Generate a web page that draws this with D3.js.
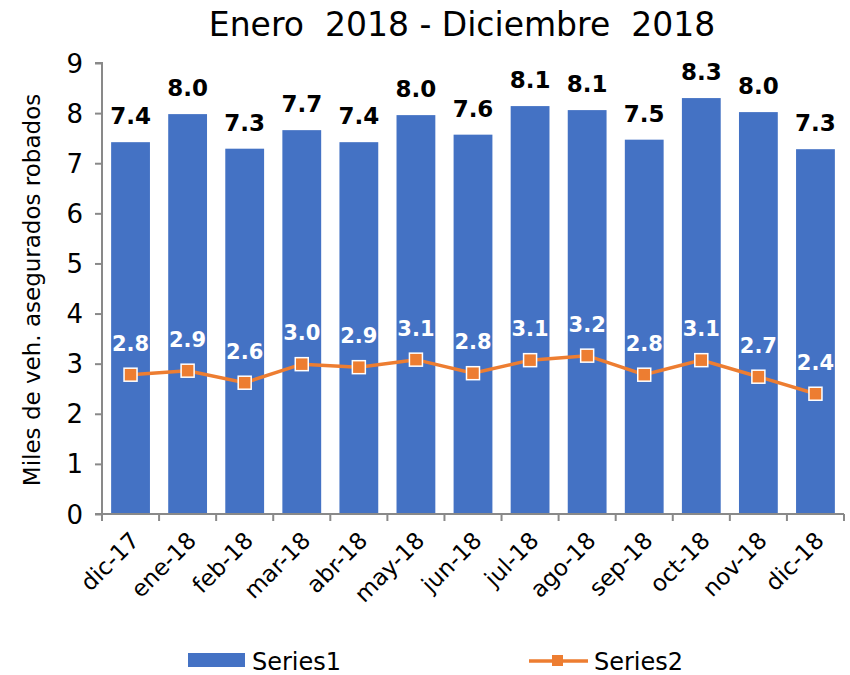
<html>
<head>
<script src="https://d3js.org/d3.v7.min.js"></script>
<style>
  body { margin: 0; background: #fff; }
  text { font-family: "DejaVu Sans", sans-serif; }
</style>
</head>
<body>
<script>
// data
var months = ["dic-17","ene-18","feb-18","mar-18","abr-18","may-18","jun-18",
              "jul-18","ago-18","sep-18","oct-18","nov-18","dic-18"];
var series1 = [7.42, 7.98, 7.29, 7.66, 7.42, 7.96, 7.57, 8.14, 8.06, 7.47, 8.30, 8.02, 7.28];
var series2 = [2.78, 2.86, 2.62, 2.99, 2.93, 3.08, 2.81, 3.07, 3.16, 2.78, 3.07, 2.74, 2.40];
var yTicks = [0,1,2,3,4,5,6,7,8,9];

var W = 850, H = 675;
var blue = "#4472C4", orange = "#ED7D31", axisCol = "#898989";

var svg = d3.select("body").append("svg").attr("width", W).attr("height", H);

var x = d3.scaleBand().domain(months).range([102, 844]).paddingInner(0.32).paddingOuter(0.16);
var y = d3.scaleLinear().domain([0, 9]).range([514, 63]);

// title
svg.append("text")
  .attr("x", 462).attr("y", 36)
  .attr("text-anchor", "middle")
  .attr("font-size", 33)
  .style("white-space", "pre")
  .text("Enero  2018 - Diciembre  2018");

// y axis title
svg.append("text")
  .attr("transform", "translate(40,290) rotate(-90)")
  .attr("text-anchor", "middle")
  .attr("font-size", 23)
  .text("Miles de veh. asegurados robados");

// bars
svg.selectAll("rect.bar").data(months).enter().append("rect")
  .attr("class", "bar")
  .attr("x", d => x(d))
  .attr("width", x.bandwidth())
  .attr("y", (d, i) => y(series1[i]))
  .attr("height", (d, i) => y(0) - y(series1[i]))
  .attr("fill", blue);

// axes
var yAxis = svg.append("g").attr("transform", "translate(102,0)")
  .call(d3.axisLeft(y).tickValues(yTicks).tickSize(7).tickPadding(12).tickFormat(d3.format("d")));
var xAxis = svg.append("g").attr("transform", "translate(0,514)")
  .call(d3.axisBottom(x).tickSize(0).tickFormat(""));

[yAxis, xAxis].forEach(function(g){
  g.select(".domain").attr("stroke", axisCol).attr("stroke-width", 2);
  g.selectAll(".tick line").attr("stroke", axisCol).attr("stroke-width", 2);
});
yAxis.select(".domain").attr("d", "M-7,63H0V514H-7");
yAxis.selectAll(".tick text").attr("font-size", 26).attr("fill", "#000").attr("dy", "0.35em");
xAxis.select(".domain").attr("d", "M102,0H844");

// x ticks at band boundaries
var bounds = d3.range(months.length + 1).map(i => 102 + i * (742 / months.length));
svg.selectAll("line.xt").data(bounds).enter().append("line")
  .attr("x1", d => d).attr("x2", d => d)
  .attr("y1", 514).attr("y2", 521)
  .attr("stroke", axisCol).attr("stroke-width", 2);

// category labels
svg.selectAll("text.cat").data(months).enter().append("text")
  .attr("class", "cat")
  .attr("text-anchor", "end")
  .attr("font-size", 23)
  .attr("transform", d => "translate(" + (x(d) + x.bandwidth() / 2 + 10) + ",542) rotate(-45)")
  .text(d => d);

// bar labels
svg.selectAll("text.l1").data(series1).enter().append("text")
  .attr("text-anchor", "middle")
  .attr("font-size", 23).attr("font-weight", "bold")
  .attr("x", (d, i) => x(months[i]) + x.bandwidth() / 2)
  .attr("y", d => y(d) - 18)
  .text(d => d.toFixed(1));

// line
var line = d3.line()
  .x((d, i) => x(months[i]) + x.bandwidth() / 2)
  .y(d => y(d));
svg.append("path").datum(series2)
  .attr("d", line).attr("fill", "none")
  .attr("stroke", orange).attr("stroke-width", 3.5);

svg.selectAll("rect.mk").data(series2).enter().append("rect")
  .attr("x", (d, i) => x(months[i]) + x.bandwidth() / 2 - 6.5)
  .attr("y", d => y(d) - 6.5)
  .attr("width", 13).attr("height", 13)
  .attr("fill", orange).attr("stroke", "#fff").attr("stroke-width", 1.5);

svg.selectAll("text.l2").data(series2).enter().append("text")
  .attr("text-anchor", "middle")
  .attr("font-size", 21).attr("font-weight", "bold").attr("fill", "#fff")
  .attr("x", (d, i) => x(months[i]) + x.bandwidth() / 2)
  .attr("y", d => y(d) - 24)
  .text(d => d.toFixed(1));

// legend
svg.append("rect").attr("x", 188).attr("y", 653).attr("width", 57).attr("height", 14).attr("fill", blue);
svg.append("text").attr("x", 252).attr("y", 670).attr("font-size", 24).text("Series1");
svg.append("line").attr("x1", 529).attr("x2", 588).attr("y1", 661).attr("y2", 661)
  .attr("stroke", orange).attr("stroke-width", 3.5);
svg.append("rect").attr("x", 552).attr("y", 655).attr("width", 11).attr("height", 11).attr("fill", orange);
svg.append("text").attr("x", 594).attr("y", 670).attr("font-size", 24).text("Series2");
</script>
</body>
</html>
